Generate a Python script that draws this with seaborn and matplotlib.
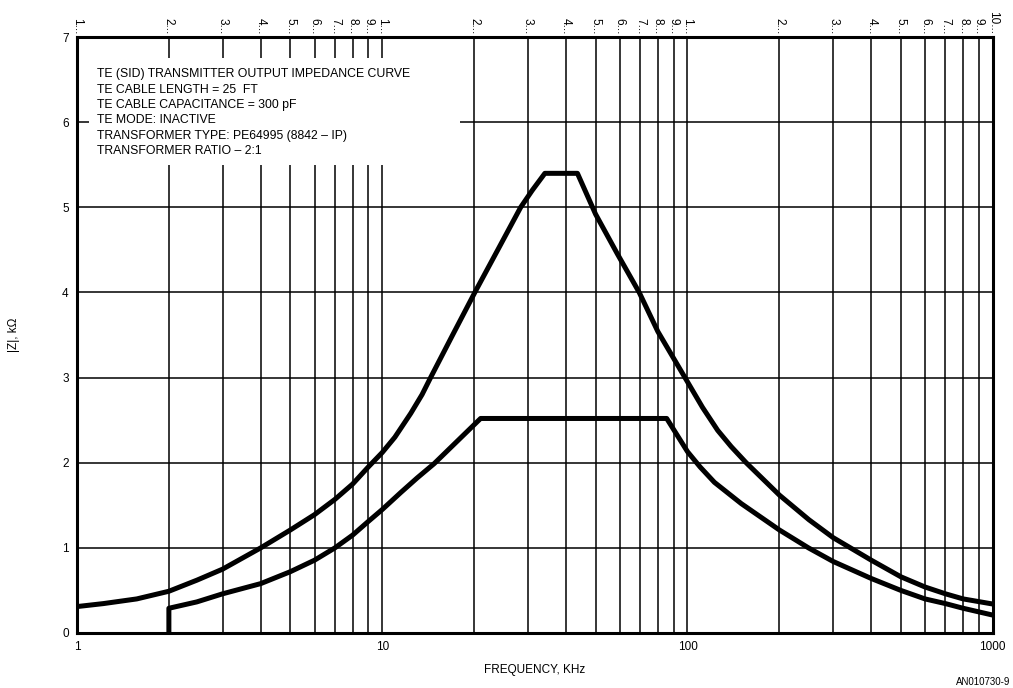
import matplotlib
matplotlib.use("Agg")
import matplotlib.pyplot as plt
import matplotlib.patches as mpatches
import matplotlib.ticker as mticker
import pandas as pd
import seaborn as sns

# upper curve
upper_freq = [1, 1.22, 1.57, 2, 2.47, 3, 4, 5, 6, 7, 8, 9, 10, 11, 12.4, 13.5, 14.4,
              17, 20.1, 23.9, 28.4, 31, 34.1, 43.6, 50, 59, 69.5, 80, 100, 112,
              125.6, 139, 155.7, 200, 250, 300, 400, 500, 600, 700, 800, 1000]
upper_z = [0.31, 0.345, 0.40, 0.49, 0.62, 0.75, 1.0, 1.21, 1.39, 1.57, 1.75, 1.95,
           2.12, 2.3, 2.58, 2.8, 3.0, 3.5, 4.0, 4.5, 5.0, 5.2, 5.4, 5.4, 4.92, 4.45,
           4.0, 3.54, 2.95, 2.65, 2.38, 2.19, 2.0, 1.62, 1.33, 1.12, 0.855,
           0.66, 0.54, 0.46, 0.40, 0.34]

# lower curve, starts with a vertical step at 2 kHz
lower_freq = [2, 2, 2.47, 3, 4, 5, 6, 7, 8, 9, 10, 11.5, 13, 14.8, 17, 21, 85.5, 100,
              110, 122.5, 150, 200, 249, 300, 400, 500, 600, 700, 800, 1000]
lower_z = [0.0, 0.29, 0.365, 0.46, 0.58, 0.72, 0.855, 1.0, 1.15, 1.31, 1.45, 1.65,
           1.82, 1.99, 2.2, 2.52, 2.52, 2.13, 1.95, 1.77, 1.52, 1.21, 1.0, 0.84,
           0.64, 0.50, 0.40, 0.345, 0.29, 0.21]

y_ticks = [0, 1, 2, 3, 4, 5, 6, 7]
x_major = [1, 10, 100, 1000]
x_major_labels = ["1", "10", "100", "1000"]
top_ticks = [m * d for d in (1, 10, 100) for m in range(1, 10)] + [1000]
top_labels = [f"{m}..." for d in (1, 10, 100) for m in range(1, 10)] + ["10..."]

notes = [
    "TE (SID) TRANSMITTER OUTPUT IMPEDANCE CURVE",
    "TE CABLE LENGTH = 25  FT",
    "TE CABLE CAPACITANCE = 300 pF",
    "TE MODE: INACTIVE",
    "TRANSFORMER TYPE: PE64995 (8842 \u2013 IP)",
    "TRANSFORMER RATIO \u2013 2:1",
]

sns.set_theme(style="white", rc={"text.color": "black", "axes.labelcolor": "black",
                                 "xtick.color": "black", "ytick.color": "black"})
plt.rcParams["font.family"] = ["Liberation Sans", "DejaVu Sans"]

fig = plt.figure(figsize=(10.13, 6.88), dpi=100)
ax = fig.add_axes([0.076, 0.080, 0.904, 0.866])

upper = pd.DataFrame({"freq": upper_freq, "z": upper_z})
lower = pd.DataFrame({"freq": lower_freq, "z": lower_z})
for df in (upper, lower):
    sns.lineplot(data=df, x="freq", y="z", sort=False, estimator=None,
                 color="black", linewidth=3.6, ax=ax, zorder=5,
                 solid_joinstyle="round", solid_capstyle="butt")

ax.set_xscale("log")
ax.set_xlim(1, 1000)
ax.set_ylim(0, 7)

# grid lines: every integer multiple of the decade, and every kOhm
for f in top_ticks[1:-1]:
    ax.axvline(f, color="black", linewidth=1.1, zorder=1)
for v in y_ticks[1:-1]:
    ax.axhline(v, color="black", linewidth=1.1, zorder=1)

# white block behind the notes
ax.add_patch(mpatches.Rectangle((0.013, 0.785), 0.405, 0.180, transform=ax.transAxes,
                                facecolor="white", edgecolor="none", zorder=2))
ax.text(0.022, 0.948, "\n".join(notes), transform=ax.transAxes, va="top", ha="left",
        fontsize=8.8, linespacing=1.38, color="black", zorder=3)

for side in ax.spines.values():
    side.set_color("black")
    side.set_linewidth(2.2)
    side.set_zorder(6)

ax.set_xticks(x_major)
ax.set_xticklabels(x_major_labels)
ax.xaxis.set_minor_locator(mticker.NullLocator())
ax.set_yticks(y_ticks)
ax.tick_params(axis="both", length=0, labelsize=8.5, colors="black", pad=6)

top = ax.secondary_xaxis("top")
top.set_xticks(top_ticks)
top.set_xticklabels(top_labels, rotation=-90, fontsize=8.5)
top.xaxis.set_minor_locator(mticker.NullLocator())
top.tick_params(length=0, pad=2, colors="black")
top.spines["top"].set_visible(False)

ax.set_xlabel("FREQUENCY, KHz", fontsize=8.5, labelpad=8)
ax.set_ylabel("|Z|, k\u03a9", fontsize=8.5, labelpad=30)

fig.text(0.997, 0.002, "AN010730-9", ha="right", va="bottom", fontsize=7, color="black")

fig.savefig("out.png", dpi=100)
